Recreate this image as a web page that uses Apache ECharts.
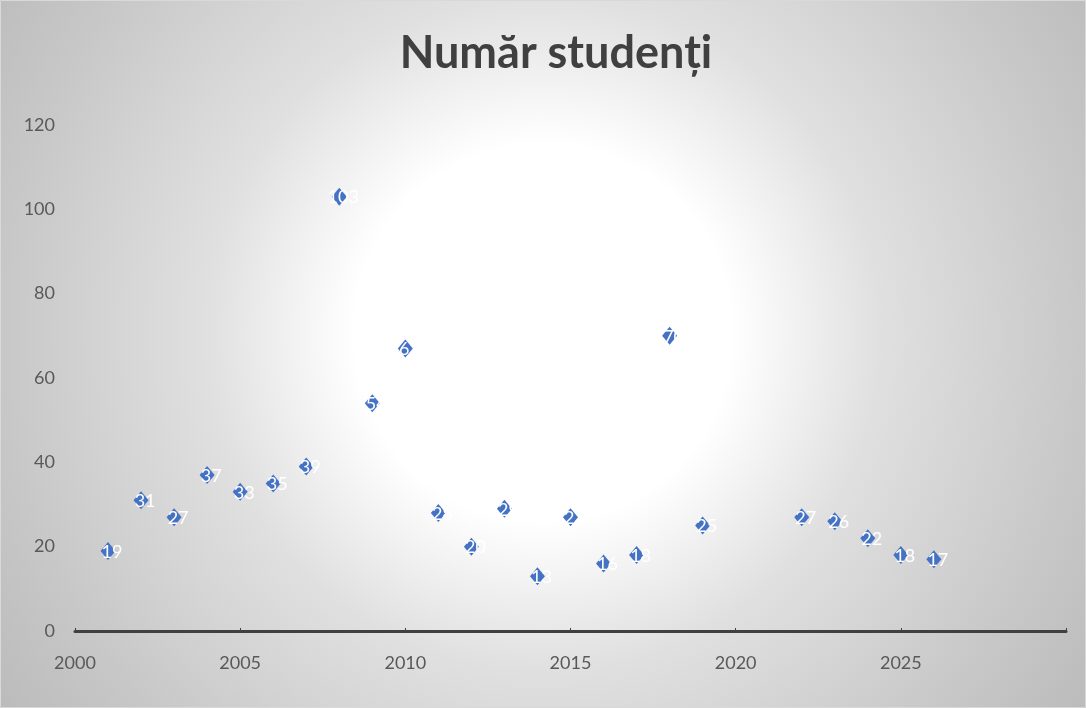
<!DOCTYPE html>
<html>
<head>
<meta charset="utf-8">
<script src="https://cdn.jsdelivr.net/npm/echarts@6/dist/echarts.min.js"></script>
<style>
html,body{margin:0;padding:0;background:#fff;}
#c{width:1086px;height:708px;}
</style>
</head>
<body>
<div id="c"></div>
<script>
const years = [2001,2002,2003,2004,2005,2006,2007,2008,2009,2010,2011,2012,2013,2014,2015,2016,2017,2018,2019,2022,2023,2024,2025,2026];
const students = [19,31,27,37,33,35,39,103,54,67,28,20,29,13,27,16,18,70,25,27,26,22,18,17];
const xTicks = [2000,2005,2010,2015,2020,2025];
const yTicks = [0,20,40,60,80,100,120];

const chart = echarts.init(document.getElementById('c'));
chart.setOption({
  backgroundColor: {
    type: 'radial', x: 0.5, y: 0.47, r: 0.95,
    colorStops: [
      {offset: 0, color: '#ffffff'},
      {offset: 0.28, color: '#ffffff'},
      {offset: 0.5, color: '#e0e0e0'},
      {offset: 0.8, color: '#c8c8c8'},
      {offset: 1, color: '#bababa'}
    ]
  },
  animation: false,
  title: {
    text: 'Număr studenți',
    left: 551,
    textAlign: 'center',
    top: 26,
    textStyle: {fontFamily: 'Lato', fontWeight: 'bold', fontSize: 45, color: '#404040'}
  },
  graphic: [{
    type: 'rect', shape: {x: 0.5, y: 0.5, width: 1085, height: 707},
    style: {fill: 'none', stroke: '#d9d9d9', lineWidth: 1}, silent: true
  }],
  grid: {left: 75, right: 20, top: 125, bottom: 77},
  xAxis: {
    type: 'value', min: 2000, max: 2030, interval: 5,
    axisLine: {show: true, onZero: true, lineStyle: {color: '#404040', width: 3}},
    axisTick: {show: true, inside: true, length: 3, lineStyle: {color: '#404040', width: 1}},
    splitLine: {show: false},
    axisLabel: {
      margin: 23, fontFamily: 'Lato', fontSize: 18, color: '#595959',
      formatter: v => xTicks.includes(v) ? String(v) : ''
    }
  },
  yAxis: {
    type: 'value', min: 0, max: 120, interval: 20,
    axisLine: {show: false}, axisTick: {show: false}, splitLine: {show: false},
    axisLabel: {
      margin: 20, fontFamily: 'Lato', fontSize: 18, color: '#595959',
      formatter: v => yTicks.includes(v) ? String(v) : ''
    }
  },
  series: [{
    type: 'scatter',
    data: years.map((y, i) => [y, students[i]]),
    symbol: 'diamond',
    symbolSize: [15, 18],
    itemStyle: {color: '#4472C4', opacity: 1},
    label: {
      show: true, position: 'inside', offset: [4, 1],
      formatter: p => String(p.value[1]),
      color: '#ffffff', fontFamily: 'Lato', fontSize: 18
    }
  }]
});
</script>
</body>
</html>
